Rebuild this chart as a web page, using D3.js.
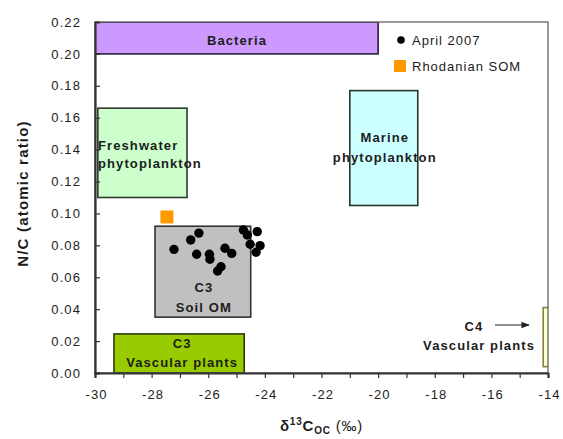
<!DOCTYPE html>
<html>
<head>
<meta charset="utf-8">
<script src="https://cdn.jsdelivr.net/npm/d3@7"></script>
<style>
  html, body { margin: 0; padding: 0; background: #fff; }
  svg { display: block; font-family: "Liberation Sans", Arial, sans-serif; }
</style>
</head>
<body>
<svg id="chart" width="563" height="439"></svg>
<script>
// Axis ticks
const xTickValues = [-30, -28, -26, -24, -22, -20, -18, -16, -14];
const yTickValues = [0, 0.02, 0.04, 0.06, 0.08, 0.10, 0.12, 0.14, 0.16, 0.18, 0.20, 0.22];

// April 2007 samples: δ13C (‰) and N/C
const aprilD13C = [-27.21, -26.62, -26.33, -26.41, -25.96, -25.94, -25.41, -25.17, -25.55, -25.67,
                   -24.76, -24.62, -24.27, -24.52, -24.17, -24.31];
const aprilNC   = [0.0775, 0.0834, 0.0877, 0.0744, 0.0744, 0.0713, 0.0782, 0.0750, 0.0666, 0.0639,
                   0.0896, 0.0865, 0.0886, 0.0807, 0.0798, 0.0757];

// Rhodanian soil organic matter
const rhodD13C = [-27.46];
const rhodNC   = [0.0978];

// Source end-member domains
const sourceNames  = ["Bacteria", "Freshwater phytoplankton", "Marine phytoplankton", "C3 Soil OM", "C3 Vascular plants", "C4 Vascular plants"];
const sourceD13C0  = [-30.0, -29.9, -21.0, -27.88, -29.33, -14.17];
const sourceD13C1  = [-20.0, -26.75, -18.6, -24.5, -24.73, -13.8];
const sourceNC0    = [0.200, 0.110, 0.105, 0.035, 0.000, 0.004];
const sourceNC1    = [0.220, 0.166, 0.177, 0.092, 0.0245, 0.041];

const fills   = ["#cc99ff", "#ccffcc", "#ccffff", "#c0c0c0", "#99cc00", "#ffffcc"];
const strokes = ["#2b1f3a", "#2f3a2f", "#2b3333", "#333333", "#2f3a10", "#8a8040"];

const svg = d3.select("#chart");
const m = { left: 95, right: 548, top: 22, bottom: 373 };

const x = d3.scaleLinear().domain([-30, -14]).range([m.left, m.right]);
const y = d3.scaleLinear().domain([0, 0.22]).range([m.bottom, m.top]);

const defs = svg.append("defs");
defs.append("clipPath").attr("id", "plotClip")
  .append("rect").attr("x", m.left).attr("y", m.top)
  .attr("width", m.right - m.left).attr("height", m.bottom - m.top);

const plot = svg.append("g").attr("clip-path", "url(#plotClip)");

// Source domains
const boxes = sourceNames.map((n, i) => ({ n, x0: sourceD13C0[i], x1: sourceD13C1[i], y0: sourceNC0[i], y1: sourceNC1[i], i }));
plot.selectAll("rect.src").data(boxes).join("rect")
  .attr("class", "src")
  .attr("x", d => x(d.x0))
  .attr("y", d => y(d.y1))
  .attr("width", d => x(d.x1) - x(d.x0))
  .attr("height", d => y(d.y0) - y(d.y1))
  .attr("fill", d => fills[d.i])
  .attr("stroke", d => strokes[d.i])
  .attr("stroke-width", 1.6);

// Plot frame
svg.append("rect")
  .attr("x", m.left).attr("y", m.top)
  .attr("width", m.right - m.left).attr("height", m.bottom - m.top)
  .attr("fill", "none").attr("stroke", "#555").attr("stroke-width", 1.2);

// Domain labels
const lab = svg.append("g").attr("font-weight", "bold").attr("font-size", 13)
  .attr("letter-spacing", 1.1).attr("fill", "#1c1c1c");
function boxLabel(lines, cx, baselines, anchor) {
  const t = lab.append("text").attr("text-anchor", anchor || "middle");
  lines.forEach((s, k) => t.append("tspan").attr("x", cx).attr("y", baselines[k]).text(s));
}
boxLabel(["Bacteria"], 237, [45]);
boxLabel(["Freshwater", "phytoplankton"], 98, [150, 168], "start");
boxLabel(["Marine", "phytoplankton"], (x(-21) + x(-18.6)) / 2 + 1, [142, 162]);
boxLabel(["C3", "Soil OM"], (x(-27.88) + x(-24.5)) / 2 + 1, [292, 312]);
boxLabel(["C3", "Vascular plants"], (x(-29.33) + x(-24.73)) / 2 + 3, [348, 367]);
boxLabel(["C4"], 474, [331]);
boxLabel(["Vascular plants"], 535, [350], "end");

// Arrow pointing to the C4 domain
defs.append("marker").attr("id", "arrowHead")
  .attr("viewBox", "0 0 10 10").attr("refX", 9).attr("refY", 5)
  .attr("markerWidth", 7).attr("markerHeight", 7).attr("orient", "auto")
  .append("path").attr("d", "M0,1 L10,5 L0,9 Z").attr("fill", "#222");
svg.append("line")
  .attr("x1", 495).attr("x2", 529)
  .attr("y1", 325).attr("y2", 325)
  .attr("stroke", "#222").attr("stroke-width", 1.2)
  .attr("marker-end", "url(#arrowHead)");

// Samples
plot.selectAll("circle.april").data(aprilD13C.map((v, i) => [v, aprilNC[i]])).join("circle")
  .attr("class", "april")
  .attr("cx", d => x(d[0])).attr("cy", d => y(d[1])).attr("r", 4.7)
  .attr("fill", "#000");

const sq = 13;
plot.selectAll("rect.rhod").data(rhodD13C.map((v, i) => [v, rhodNC[i]])).join("rect")
  .attr("class", "rhod")
  .attr("x", d => x(d[0]) - sq / 2).attr("y", d => y(d[1]) - sq / 2)
  .attr("width", sq).attr("height", sq)
  .attr("fill", "#ff9900");

// Axes
const yAxis = d3.axisLeft(y).tickValues(yTickValues).tickFormat(d3.format(".2f")).tickSize(-5).tickPadding(14);
const gy = svg.append("g").attr("transform", `translate(${m.left},0)`).call(yAxis);
const xAxis = d3.axisBottom(x).tickValues(d3.range(-30, -13, 1)).tickSize(5).tickPadding(12)
  .tickFormat(d => xTickValues.includes(d) ? d3.format("d")(d).replace("−", "-") : "");
const gx = svg.append("g").attr("transform", `translate(0,${m.bottom})`).call(xAxis);
[gx, gy].forEach(g => {
  g.select(".domain").attr("stroke", "#333").attr("stroke-width", 2.2);
  g.selectAll(".tick line").attr("stroke", "#333").attr("stroke-width", 1.2);
  g.selectAll(".tick text").attr("fill", "#222").attr("font-size", 13).attr("letter-spacing", 1.1)
    .attr("font-family", "'Liberation Sans', Arial, sans-serif");
});
gy.selectAll(".tick line").filter(d => d === 0 || d === 0.22).remove();
gx.selectAll(".tick text").attr("dx", 1);

// Axis titles
svg.append("text")
  .attr("transform", `translate(28,${(m.top + m.bottom) / 2 - 4}) rotate(-90)`)
  .attr("text-anchor", "middle").attr("font-weight", "bold").attr("font-size", 15)
  .attr("letter-spacing", 1.2).attr("fill", "#1c1c1c")
  .text("N/C (atomic ratio)");
const xt = svg.append("text")
  .attr("x", (m.left + m.right) / 2).attr("y", 431)
  .attr("text-anchor", "middle").attr("font-weight", "bold").attr("font-size", 15)
  .attr("letter-spacing", 0.8).attr("fill", "#1c1c1c");
xt.append("tspan").text("δ");
xt.append("tspan").attr("dy", -6).attr("font-size", 10).text("13");
xt.append("tspan").attr("dy", 6).text("C");
xt.append("tspan").attr("dy", 3).attr("font-size", 10).text("OC");
xt.append("tspan").attr("dy", -3).attr("font-weight", "normal").text(" (‰)");

// Legend
const lg = svg.append("g").attr("font-size", 13).attr("letter-spacing", 1).attr("fill", "#1c1c1c");
lg.append("circle").attr("cx", 401).attr("cy", 40).attr("r", 3.8).attr("fill", "#000");
lg.append("text").attr("x", 412).attr("y", 45).text("April 2007");
lg.append("rect").attr("x", 394).attr("y", 60).attr("width", 12).attr("height", 12).attr("fill", "#ff9900");
lg.append("text").attr("x", 412).attr("y", 71).text("Rhodanian SOM");
</script>
</body>
</html>
